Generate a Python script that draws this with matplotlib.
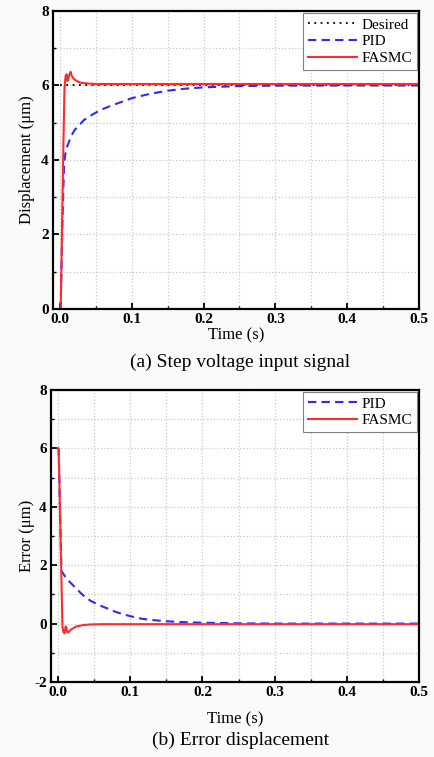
import matplotlib
matplotlib.use("Agg")
import matplotlib.pyplot as plt
from matplotlib.ticker import MultipleLocator, FormatStrFormatter

plt.rcParams['font.family'] = ['Liberation Serif', 'DejaVu Serif']
plt.rcParams['axes.unicode_minus'] = False

# ---- data ----
# (a) displacement
t_fasmc = [0, 0.0007, 0.0015, 0.003, 0.0045, 0.006, 0.0075, 0.009, 0.0105, 0.0115,
           0.013, 0.0145, 0.016, 0.018, 0.02, 0.025, 0.03, 0.035, 0.04, 0.05, 0.1, 0.2, 0.3, 0.4, 0.5]
y_fasmc = [0, 0, 0.8, 2.6, 4.4, 5.9, 6.25, 6.3, 6.12, 6.2,
           6.3, 6.37, 6.27, 6.2, 6.16, 6.1, 6.07, 6.06, 6.05, 6.04, 6.04, 6.04, 6.04, 6.04, 6.04]

t_pid = [0, 0.0007, 0.003, 0.0055, 0.008, 0.015, 0.02, 0.033, 0.045, 0.056, 0.07, 0.08,
         0.1, 0.126, 0.15, 0.172, 0.2, 0.25, 0.3, 0.4, 0.5]
y_pid = [0, 0, 2.2, 3.9, 4.27, 4.63, 4.8, 5.07, 5.22, 5.34, 5.45, 5.52,
         5.66, 5.78, 5.86, 5.91, 5.95, 5.985, 5.995, 6.0, 6.0]

t_desired = [0, 0.5]
y_desired = [6, 6]

# (b) error
t_err_fasmc = [0, 0.0007, 0.0015, 0.003, 0.0045, 0.006, 0.0075, 0.009, 0.0105, 0.0115,
               0.013, 0.0145, 0.016, 0.018, 0.025, 0.035, 0.045, 0.06, 0.1, 0.5]
e_fasmc = [6, 5.9, 5.2, 3.4, 1.6, -0.1, -0.3, -0.33, -0.1, -0.15,
           -0.3, -0.3, -0.25, -0.2, -0.1, -0.05, -0.03, -0.02, -0.02, -0.02]

t_err_pid = [0, 0.0007, 0.003, 0.0047, 0.01, 0.016, 0.025, 0.035, 0.045, 0.058, 0.07, 0.081,
             0.093, 0.104, 0.115, 0.127, 0.15, 0.173, 0.2, 0.25, 0.3, 0.5]
e_pid = [6, 6, 3.5, 1.8, 1.6, 1.43, 1.2, 0.96, 0.78, 0.62, 0.5, 0.39,
         0.3, 0.23, 0.17, 0.13, 0.08, 0.05, 0.03, 0.01, 0.0, 0.0]

RED = '#ff2a2a'
BLUE = '#2a2aff'

fig = plt.figure(figsize=(4.35, 7.57), dpi=100, facecolor='#fafafa')
ax1 = fig.add_axes([0.1218, 0.5918, 0.841, 0.3937])
ax2 = fig.add_axes([0.117, 0.0991, 0.846, 0.3857])


def style(ax, ymin, ymax):
    ax.set_xlim(-0.01, 0.5)
    ax.set_ylim(ymin, ymax)
    ax.xaxis.set_major_locator(MultipleLocator(0.1))
    ax.xaxis.set_minor_locator(MultipleLocator(0.05))
    ax.yaxis.set_major_locator(MultipleLocator(2))
    ax.yaxis.set_minor_locator(MultipleLocator(1))
    ax.xaxis.set_major_formatter(FormatStrFormatter('%.1f'))
    ax.grid(True, which='both', color='#c8c8c8', linestyle=':', linewidth=0.9)
    ax.set_axisbelow(True)
    ax.tick_params(which='both', direction='in', top=False, right=False, labelsize=11, pad=3)
    ax.tick_params(which='major', length=4, width=1.3)
    ax.tick_params(which='minor', length=2.5, width=1.0)
    for lbl in ax.get_xticklabels() + ax.get_yticklabels():
        lbl.set_fontweight('bold')
    for s in ax.spines.values():
        s.set_linewidth(1.6)


def add_legend(ax):
    leg = ax.legend(loc='upper right', fontsize=11, fancybox=False, framealpha=1,
                    edgecolor='#808080', borderpad=0.3, labelspacing=0.2, handlelength=3.2,
                    handletextpad=0.3, borderaxespad=0.15)
    leg.get_frame().set_linewidth(0.8)


ax1.plot(t_desired, y_desired, color='black', linestyle=(0, (1, 2.5)), linewidth=1.3, label='Desired')
ax1.plot(t_pid, y_pid, color=BLUE, linestyle=(0, (4, 2.5)), linewidth=1.5, label='PID')
ax1.plot(t_fasmc, y_fasmc, color=RED, linewidth=1.5, label='FASMC')
style(ax1, 0, 8)
ax1.set_xlabel('Time (s)', fontsize=12, labelpad=1)
ax1.set_ylabel('Displacement (μm)', fontsize=12)
ax1.yaxis.set_label_coords(-0.050, 0.5)
add_legend(ax1)

ax2.plot(t_err_pid, e_pid, color=BLUE, linestyle=(0, (4, 2.5)), linewidth=1.5, label='PID')
ax2.plot(t_err_fasmc, e_fasmc, color=RED, linewidth=1.5, label='FASMC')
style(ax2, -2, 8)
ax2.set_xlabel('Time (s)', fontsize=12, labelpad=9)
ax2.set_ylabel('Error (μm)', fontsize=12)
ax2.yaxis.set_label_coords(-0.042, 0.5)
add_legend(ax2)

fig.text(0.552, 0.5218, '(a) Step voltage input signal', ha='center', va='center', fontsize=14)
fig.text(0.552, 0.0218, '(b) Error displacement', ha='center', va='center', fontsize=14)

fig.savefig('out.png', dpi=100, facecolor=fig.get_facecolor())
